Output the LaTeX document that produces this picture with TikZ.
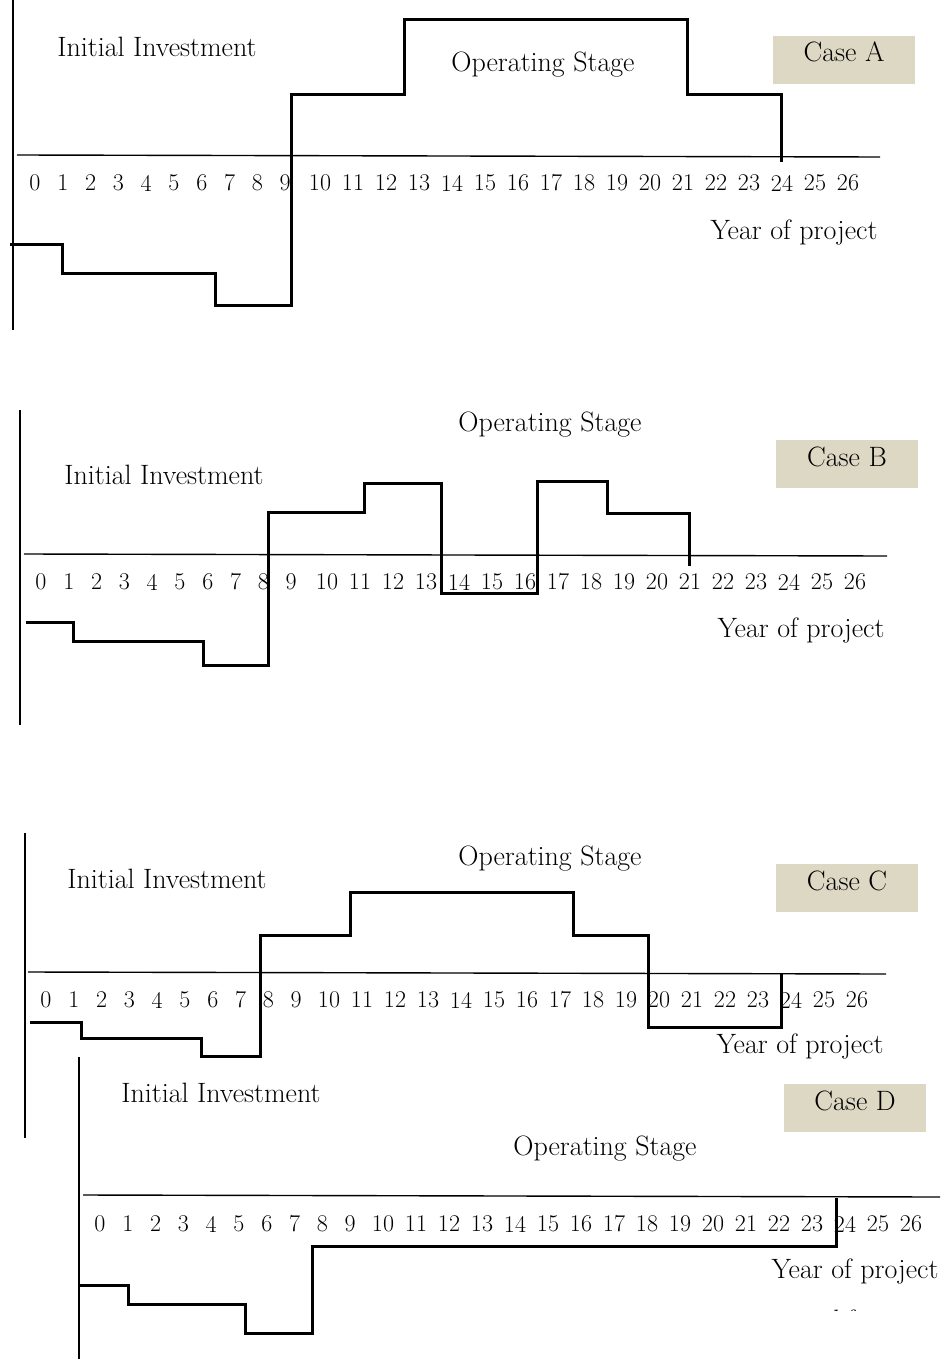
\documentclass[tikz,border=0pt]{standalone}
\usepackage{amsmath}
\usetikzlibrary{calc}
\definecolor{casefill}{RGB}{221,216,195}
\tikzstyle{axisline}=[line width=1.4pt]
\tikzstyle{cashline}=[line width=3pt, line join=miter]
\tikzstyle{yearlabel}=[inner sep=0pt, font=\fontsize{24}{28}\selectfont]
\tikzstyle{stagelabel}=[inner sep=0pt, font=\fontsize{28}{32}\selectfont]
\tikzstyle{casebox}=[fill=casefill, minimum width=142pt, text height=20pt, text depth=16pt, inner ysep=6pt, font=\fontsize{28}{32}\selectfont]
\newcommand{\drawyears}[4]{% Syntax: {x of 0}{x of 10}{y}{name prefix}
  \foreach \i in {0,...,9} {
    \node[yearlabel] (#4\i) at (#1+27.8*\i,#3) {\i};
  }
  \foreach \i in {10,...,26} {
    \node[yearlabel] (#4\i) at (#2+33*\i-330,#3) {\i};
  }
}

\begin{document}
\begin{tikzpicture}[x=1pt,y=-1pt]
\useasboundingbox (0,0) rectangle (946,1359);

% Case A
\draw[axisline] (13,0) -- (13,330);
\draw[axisline] (17,155) -- (880,157);
\drawyears{35}{320}{183}{a}
\draw[cashline] (10,244) -- (62,244) -- (62,273) -- (215,273) -- (215,305) -- (291,305) -- (291,95)
  -- (404,95) -- (404,20) -- (687,20) -- (687,95) -- (781,95) -- (781,162);
\node[stagelabel] (investA) at (157,47) {Initial Investment};
\node[stagelabel] (operA) at (543,65) {Operating Stage};
\node[casebox] (caseA) at (844,60) {Case A};
\node[stagelabel] (yearA) at (794,233) {Year of project};

% Case B
\draw[axisline] (20,410) -- (20,725);
\draw[axisline] (24,554) -- (887,556);
\drawyears{41}{327}{582}{b}
\draw[cashline] (26,622) -- (73,622) -- (73,641) -- (203,641) -- (203,665) -- (268,665) -- (268,512)
  -- (364,512) -- (364,483) -- (441,483) -- (441,593) -- (537,593) -- (537,481) -- (607,481)
  -- (607,513) -- (689,513) -- (689,566);
\node[stagelabel] (operB) at (550,425) {Operating Stage};
\node[stagelabel] (investB) at (164,475) {Initial Investment};
\node[casebox] (caseB) at (847,464) {Case B};
\node[stagelabel] (yearB) at (801,631) {Year of project};

% Case C
\draw[axisline] (25,833) -- (25,1138);
\draw[axisline] (28,972) -- (886,974);
\drawyears{46}{329}{1000}{c}
\draw[cashline] (30,1022) -- (81,1022) -- (81,1038) -- (201,1038) -- (201,1056) -- (260,1056) -- (260,935)
  -- (350,935) -- (350,892) -- (573,892) -- (573,935) -- (648,935) -- (648,1027) -- (781,1027) -- (781,973);
\node[stagelabel] (operC) at (550,859) {Operating Stage};
\node[stagelabel] (investC) at (167,879) {Initial Investment};
\node[casebox] (caseC) at (847,888) {Case C};
\node[stagelabel] (yearC) at (800,1047) {Year of project};

% Case D
\draw[axisline] (79,1057) -- (79,1359);
\draw[axisline] (83,1195) -- (940,1197);
\drawyears{100}{383}{1224}{d}
\draw[cashline] (79,1285) -- (128,1285) -- (128,1304) -- (245,1304) -- (245,1333) -- (312,1333) -- (312,1246)
  -- (836,1246) -- (836,1198);
\node[stagelabel] (investD) at (221,1093) {Initial Investment};
\node[casebox] (caseD) at (855,1108) {Case D};
\node[stagelabel] (operD) at (605,1149) {Operating Stage};
\node[stagelabel] (yearD) at (855,1271) {Year of project};
\begin{scope}
  \clip (820,1295) rectangle (880,1310);
  \node[stagelabel] (lifeD) at (850,1320) {life};
\end{scope}
\end{tikzpicture}
\end{document}
